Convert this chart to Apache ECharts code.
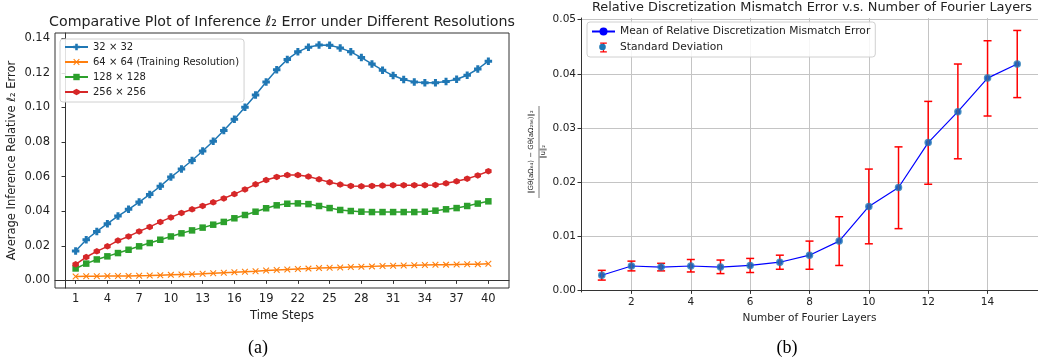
<!DOCTYPE html>
<html><head><meta charset="utf-8">
<script src="https://cdn.jsdelivr.net/npm/echarts@6/dist/echarts.min.js"></script>
<style>html,body{margin:0;padding:0;background:#fff}#c{width:1038px;height:358px}</style>
</head><body><div id="c"></div>
<script>
// ---------- Chart (a) data ----------
const timeSteps = [1,2,3,4,5,6,7,8,9,10,11,12,13,14,15,16,17,18,19,20,21,22,23,24,25,26,27,28,29,30,31,32,33,34,35,36,37,38,39,40];
const err32 = [0.0170,0.0235,0.0283,0.0328,0.0372,0.0411,0.0453,0.0497,0.0544,0.0597,0.0644,0.0693,0.0748,0.0804,0.0866,0.0931,0.1001,0.1072,0.1147,0.1217,0.1277,0.1321,0.1348,0.1361,0.1359,0.1344,0.1321,0.1288,0.1251,0.1215,0.1184,0.1161,0.1147,0.1142,0.1142,0.1149,0.1163,0.1186,0.1222,0.1267];
const err64 = [0.0023,0.0024,0.0024,0.0025,0.0025,0.0026,0.0027,0.0028,0.0030,0.0032,0.0034,0.0036,0.0038,0.0041,0.0044,0.0047,0.0050,0.0053,0.0057,0.0060,0.0063,0.0066,0.0068,0.0071,0.0073,0.0075,0.0077,0.0079,0.0081,0.0083,0.0085,0.0086,0.0087,0.0089,0.0090,0.0091,0.0092,0.0093,0.0094,0.0096];
const err128 = [0.0069,0.0097,0.0121,0.0139,0.0158,0.0177,0.0197,0.0216,0.0235,0.0254,0.0272,0.0289,0.0305,0.0322,0.0338,0.0359,0.0378,0.0397,0.0417,0.0434,0.0443,0.0445,0.0441,0.0430,0.0418,0.0407,0.0401,0.0397,0.0395,0.0395,0.0395,0.0395,0.0395,0.0397,0.0403,0.0411,0.0418,0.0430,0.0444,0.0457];
const err256 = [0.0093,0.0135,0.0168,0.0197,0.0230,0.0254,0.0283,0.0309,0.0338,0.0364,0.0390,0.0411,0.0430,0.0451,0.0474,0.0499,0.0526,0.0555,0.0580,0.0598,0.0609,0.0609,0.0600,0.0584,0.0567,0.0554,0.0546,0.0544,0.0546,0.0548,0.0550,0.0550,0.0550,0.0550,0.0552,0.0561,0.0573,0.0588,0.0607,0.0631];
const seriesNamesA = ['32 × 32','64 × 64 (Training Resolution)','128 × 128','256 × 256'];
const timeTicks = [1,4,7,10,13,16,19,22,25,28,31,34,37,40];
const errTicks = [0,0.02,0.04,0.06,0.08,0.10,0.12,0.14];

// ---------- Chart (b) data ----------
const layers = [1,2,3,4,5,6,7,8,9,10,11,12,13,14,15];
const mismatchMean = [0.0028,0.0045,0.0043,0.0045,0.0043,0.0046,0.0052,0.0065,0.0091,0.0155,0.0190,0.0273,0.0330,0.0392,0.0418];
const mismatchLow  = [0.0019,0.0036,0.0036,0.0034,0.0031,0.0033,0.0039,0.0039,0.0046,0.0086,0.0114,0.0196,0.0243,0.0322,0.0356];
const mismatchHigh = [0.0037,0.0054,0.0050,0.0057,0.0056,0.0059,0.0065,0.0091,0.0136,0.0224,0.0265,0.0349,0.0418,0.0461,0.0480];
const layerTicks = [2,4,6,8,10,12,14];
const mismatchTicks = [0,0.01,0.02,0.03,0.04,0.05];

const FONT = 'DejaVu Sans';
const TXT = '#222';
const pair = (xs, ys) => xs.map((x, i) => [x, ys[i]]);

const plusPath = 'path://M3,0H7V3H10V7H7V10H3V7H0V3H3Z';
const xPath = 'path://M0,1.2L1.2,0L5,3.8L8.8,0L10,1.2L6.2,5L10,8.8L8.8,10L5,6.2L1.2,10L0,8.8L3.8,5Z';
const hexPath = 'path://M5,0L9.33,2.5L9.33,7.5L5,10L0.67,7.5L0.67,2.5Z';

const chart = echarts.init(document.getElementById('c'), null, {renderer: 'canvas'});

const axisLineDark = {show: true, lineStyle: {color: '#333', width: 1}};
const tickDark = {show: true, length: 3.5, lineStyle: {color: '#333', width: 1}};

const option = {
  animation: false,
  backgroundColor: '#fff',
  textStyle: {fontFamily: FONT},
  grid: [
    {left: 55, top: 33, width: 454, height: 255, show: true, borderColor: '#333', borderWidth: 1, containLabel: false},
    {left: 581, top: 18, width: 463, height: 274, show: false, containLabel: false}
  ],
  legend: [
    {
      orient: 'vertical', left: 60, top: 39,
      itemWidth: 23, itemHeight: 8, itemGap: 3,
      padding: [2, 5, 4, 4],
      borderColor: '#d0d0d0', borderWidth: 1, borderRadius: 3, backgroundColor: 'rgba(255,255,255,0.85)',
      textStyle: {fontFamily: FONT, fontSize: 10, color: TXT, lineHeight: 12},
      data: seriesNamesA
    },
    {
      orient: 'vertical', left: 587, top: 22,
      itemWidth: 23, itemHeight: 10, itemGap: 3,
      padding: [3, 5, 3, 4],
      borderColor: '#d0d0d0', borderWidth: 1, borderRadius: 3, backgroundColor: 'rgba(255,255,255,0.85)',
      textStyle: {fontFamily: FONT, fontSize: 10.7, color: TXT, lineHeight: 13},
      data: [
        {name: 'Mean of Relative Discretization Mismatch Error'},
        {name: 'Standard Deviation', icon: 'path://M0,0H8V1.4H4.7V10.6H8V12H0V10.6H3.3V1.4H0Z', itemStyle: {color: '#ff0000'}}
      ]
    }
  ],
  xAxis: [
    {
      gridIndex: 0, type: 'value', min: -0.95, max: 41.95,
      axisLine: axisLineDark,
      axisTick: Object.assign({}, tickDark, {customValues: timeTicks}),
      axisLabel: {customValues: timeTicks, fontFamily: FONT, fontSize: 11.5, color: TXT, margin: 5},
      splitLine: {show: false},
      name: 'Time Steps', nameLocation: 'middle', nameGap: 21,
      nameTextStyle: {fontFamily: FONT, fontSize: 11.5, color: TXT}
    },
    {
      gridIndex: 1, type: 'value', min: 0.3, max: 15.7,
      axisLine: axisLineDark,
      axisTick: Object.assign({}, tickDark, {customValues: layerTicks}),
      axisLabel: {customValues: layerTicks, fontFamily: FONT, fontSize: 10.5, color: TXT, margin: 5},
      splitLine: {show: false},
      name: 'Number of Fourier Layers', nameLocation: 'middle', nameGap: 19,
      nameTextStyle: {fontFamily: FONT, fontSize: 10.5, color: TXT}
    }
  ],
  yAxis: [
    {
      gridIndex: 0, type: 'value', min: -0.0044, max: 0.1430,
      axisLine: axisLineDark,
      axisTick: Object.assign({}, tickDark, {customValues: errTicks}),
      axisLabel: {customValues: errTicks, fontFamily: FONT, fontSize: 11.5, color: TXT, margin: 5,
                  formatter: v => v.toFixed(2)},
      splitLine: {show: false},
      name: 'Average Inference Relative ℓ₂ Error', nameLocation: 'middle', nameGap: 37,
      nameTextStyle: {fontFamily: FONT, fontSize: 11.5, color: TXT}
    },
    {
      gridIndex: 1, type: 'value', min: -0.0003, max: 0.0503,
      axisLine: axisLineDark,
      axisTick: Object.assign({}, tickDark, {customValues: mismatchTicks}),
      axisLabel: {customValues: mismatchTicks, fontFamily: FONT, fontSize: 10.5, color: TXT, margin: 5,
                  formatter: v => v.toFixed(2)},
      splitLine: {show: false}
    }
  ],
  series: [
    {name: seriesNamesA[0], type: 'line', xAxisIndex: 0, yAxisIndex: 0, data: pair(timeSteps, err32),
     color: '#1f77b4', lineStyle: {width: 1.5}, symbol: plusPath, symbolSize: 7.5, showAllSymbol: true},
    {name: seriesNamesA[1], type: 'line', xAxisIndex: 0, yAxisIndex: 0, data: pair(timeSteps, err64),
     color: '#ff7f0e', lineStyle: {width: 1.5}, symbol: xPath, symbolSize: 6.5, showAllSymbol: true},
    {name: seriesNamesA[2], type: 'line', xAxisIndex: 0, yAxisIndex: 0, data: pair(timeSteps, err128),
     color: '#2ca02c', lineStyle: {width: 1.5}, symbol: 'rect', symbolSize: 6.5, showAllSymbol: true},
    {name: seriesNamesA[3], type: 'line', xAxisIndex: 0, yAxisIndex: 0, data: pair(timeSteps, err256),
     color: '#d62728', lineStyle: {width: 1.5}, symbol: hexPath, symbolSize: 6.5, showAllSymbol: true},

    // (b) gridlines drawn as markLines on a hidden helper series
    {type: 'line', xAxisIndex: 1, yAxisIndex: 1, data: [], silent: true, z: 0,
     markLine: {z: 0, silent: true, symbol: 'none', label: {show: false}, animation: false,
       lineStyle: {color: '#c4c4c4', width: 1, type: 'solid'},
       data: layerTicks.map(v => ({xAxis: v})).concat(mismatchTicks.map(v => ({yAxis: v})))}},

    {name: 'Mean of Relative Discretization Mismatch Error', type: 'line', xAxisIndex: 1, yAxisIndex: 1,
     data: pair(layers, mismatchMean), color: '#0000ff', lineStyle: {width: 1.2},
     symbol: 'circle', symbolSize: 5, z: 6},
    {name: 'Standard Deviation', type: 'custom', xAxisIndex: 1, yAxisIndex: 1,
     data: layers.map((x, i) => [x, mismatchLow[i], mismatchHigh[i]]),
     encode: {x: 0, y: [1, 2]}, color: '#ff0000', z: 7,
     renderItem: function (params, api) {
       const x = api.value(0), lo = api.value(1), hi = api.value(2);
       const p1 = api.coord([x, lo]), p2 = api.coord([x, hi]);
       const w = 4;
       const st = {stroke: '#ff0000', lineWidth: 1.5};
       return {type: 'group', children: [
         {type: 'line', shape: {x1: p1[0], y1: p1[1], x2: p2[0], y2: p2[1]}, style: st},
         {type: 'line', shape: {x1: p1[0] - w, y1: p1[1], x2: p1[0] + w, y2: p1[1]}, style: st},
         {type: 'line', shape: {x1: p2[0] - w, y1: p2[1], x2: p2[0] + w, y2: p2[1]}, style: st}
       ]};
     }},
    {name: 'meanPoints', type: 'scatter', xAxisIndex: 1, yAxisIndex: 1,
     data: pair(layers, mismatchMean), color: '#1f77b4', symbolSize: 7.5, z: 8}
  ],
  graphic: [
    {type: 'text', x: 282, y: 22, z: 10, style: {text: 'Comparative Plot of Inference ℓ₂ Error under Different Resolutions',
      font: '14.2px "DejaVu Sans"', fill: TXT, textAlign: 'center', textVerticalAlign: 'middle'}},
    {type: 'text', x: 812, y: 8, z: 10, style: {text: 'Relative Discretization Mismatch Error v.s. Number of Fourier Layers',
      font: '12.9px "DejaVu Sans"', fill: TXT, textAlign: 'center', textVerticalAlign: 'middle'}},
    {type: 'text', x: 258, y: 348, z: 10, style: {text: '(a)', font: '18px "Liberation Serif"', fill: '#000', textAlign: 'center', textVerticalAlign: 'middle'}},
    {type: 'text', x: 787, y: 348, z: 10, style: {text: '(b)', font: '18px "Liberation Serif"', fill: '#000', textAlign: 'center', textVerticalAlign: 'middle'}},
    {type: 'group', x: 539, y: 152, rotation: Math.PI / 2, z: 10, children: [
      {type: 'text', x: 0, y: -4, style: {text: '‖Gθ(aΩ₆₄) − Gθ(aΩ₂₅₆)‖₂', font: '7px "DejaVu Sans"', fill: TXT, textAlign: 'center', textVerticalAlign: 'bottom'}},
      {type: 'line', shape: {x1: -46, y1: 0, x2: 46, y2: 0}, style: {stroke: TXT, lineWidth: 0.6}},
      {type: 'text', x: 0, y: 1, style: {text: '‖u‖₂', font: '7px "DejaVu Sans"', fill: TXT, textAlign: 'center', textVerticalAlign: 'top'}}
    ]},
    // blue dot for errorbar legend icon
    {type: 'circle', z: 100, shape: {cx: 602.5, cy: 47, r: 3.3}, style: {fill: '#1f77b4'}}
  ]
};
chart.setOption(option);
</script>
</body></html>
